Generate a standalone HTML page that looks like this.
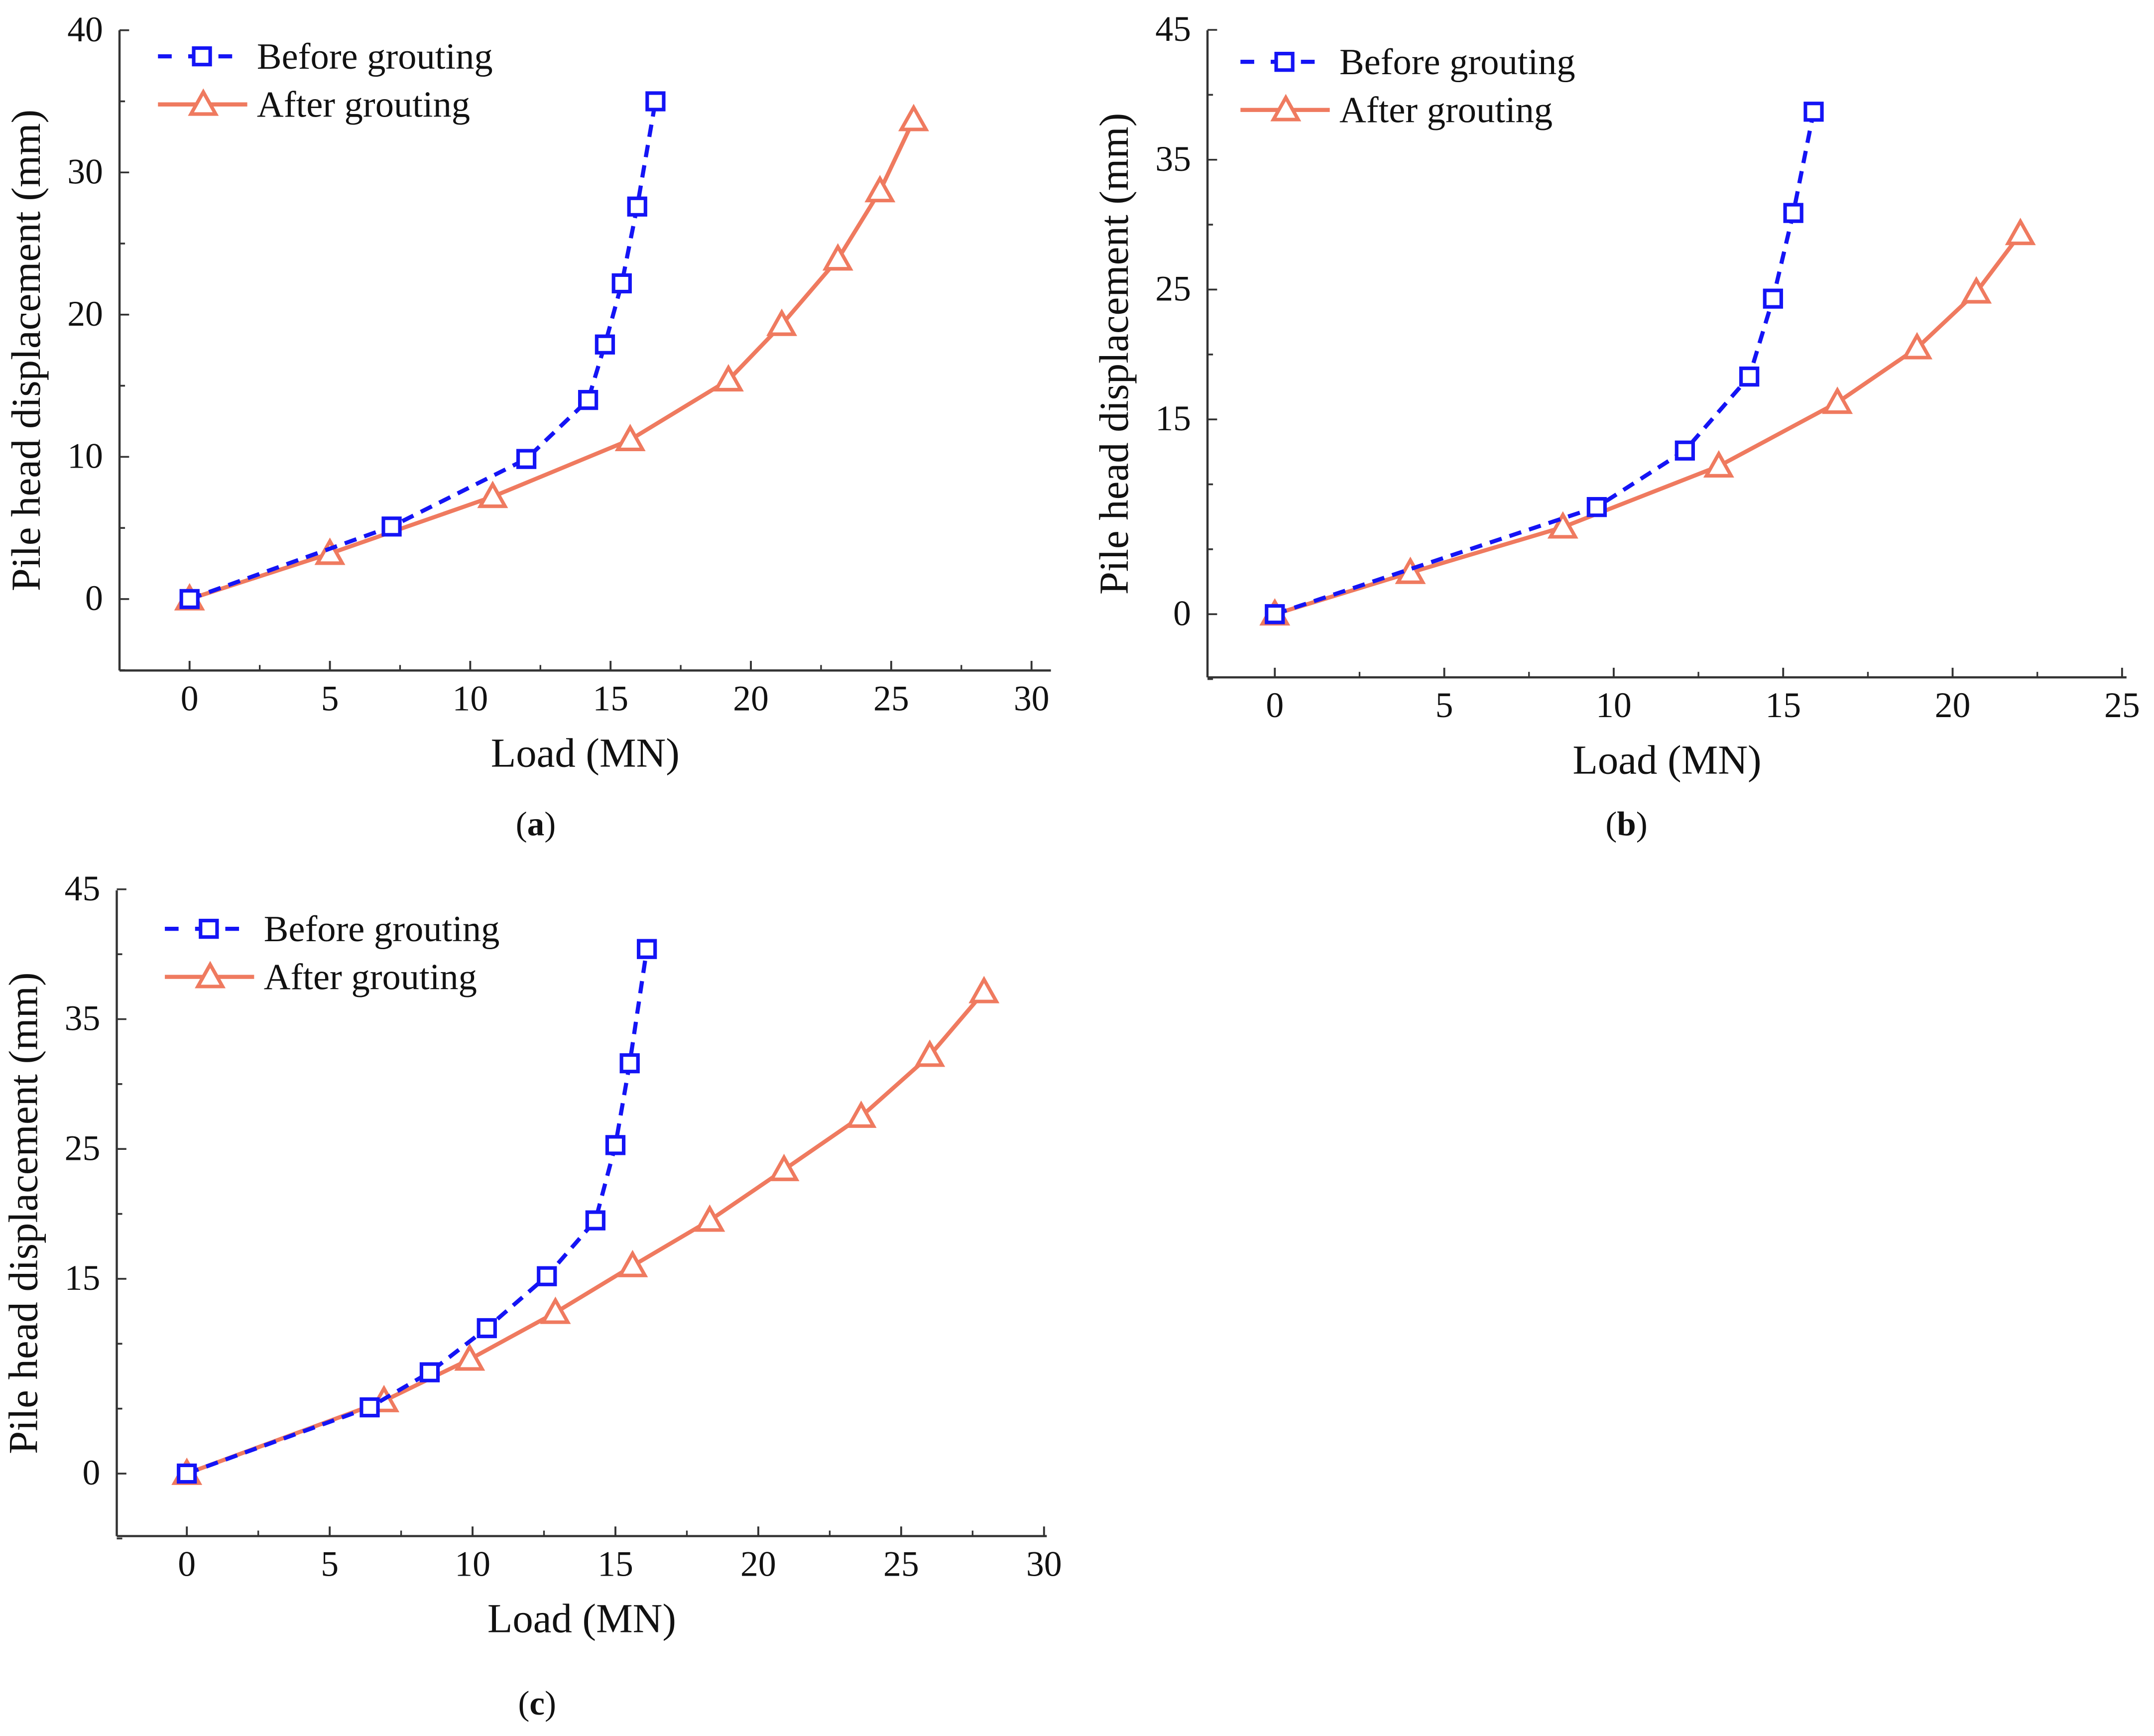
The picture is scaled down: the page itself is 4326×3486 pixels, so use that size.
<!DOCTYPE html>
<html><head><meta charset="utf-8">
<style>
html,body{margin:0;padding:0;background:#fff;}
svg{display:block;}
svg text{font-family:'Liberation Serif','Times New Roman',serif;fill:#111;}
</style></head>
<body>
<svg id="fig" width="4326" height="3486" viewBox="0 0 1568 1263.5" preserveAspectRatio="none" font-family="Liberation Serif, serif" xmlns="http://www.w3.org/2000/svg"></svg>
<script>
// ---- data ----
const aBeforeX=[0,7.2,12.0,14.2,14.8,15.4,15.95,16.6];
const aBeforeY=[0,5.1,9.85,14.0,17.9,22.2,27.6,35.0];
const aAfterX=[0,5.0,10.8,15.7,19.2,21.1,23.1,24.6,25.8];
const aAfterY=[0,3.2,7.2,11.2,15.4,19.3,23.9,28.7,33.7];
const bBeforeX=[0,9.5,12.1,14.0,14.7,15.3,15.9];
const bBeforeY=[0,8.25,12.6,18.3,24.3,30.9,38.7];
const bAfterX=[0,4.0,8.5,13.1,16.6,18.95,20.7,22.0];
const bAfterY=[0,3.2,6.7,11.4,16.3,20.5,24.8,29.3];
const cBeforeX=[0,6.4,8.5,10.5,12.6,14.3,15.0,15.5,16.1];
const cBeforeY=[0,5.1,7.8,11.2,15.2,19.5,25.3,31.6,40.4];
const cAfterX=[0,6.9,9.9,12.9,15.6,18.3,20.9,23.6,26.0,27.9];
const cAfterY=[0,5.6,8.8,12.4,16.0,19.5,23.4,27.5,32.2,37.1];
const aXTicks=[0,5,10,15,20,25,30];
const aYTicks=[0,10,20,30,40];
const bXTicks=[0,5,10,15,20,25];
const bYTicks=[0,15,25,35,45];
const cXTicks=[0,5,10,15,20,25,30];
const cYTicks=[0,15,25,35,45];

const NS="http://www.w3.org/2000/svg";
const svg=document.getElementById('fig');
function el(tag,attrs,parent){const e=document.createElementNS(NS,tag);for(const k in attrs)e.setAttribute(k,attrs[k]);(parent||svg).appendChild(e);return e;}
const BLUE="#1414f5", ORANGE="#ef7a5f";
const FF="Liberation Serif, serif";

function panel(p){
  const g=el('g',{});
  
  
  const sx=v=>p.x0+v*p.xs;
  const sy=v=>p.y0-v*p.ys;
  const ya=el('line',{x1:p.L,y1:p.T,x2:p.L,y2:p.B,stroke:'#333','stroke-width':1.6},g);
  
  
  const xa=el('line',{x1:p.L,y1:p.B,x2:p.R,y2:p.B,stroke:'#333','stroke-width':1.6},g);
  
  
  p.xt.forEach((v,i)=>{
    const x=sx(v);
    el('line',{x1:x,y1:p.B,x2:x,y2:p.B-7,stroke:'#333','stroke-width':1.4},g);
    if(i<p.xt.length-1){const m=sx(v+2.5);el('line',{x1:m,y1:p.B,x2:m,y2:p.B-4,stroke:'#333','stroke-width':1.2},g);}
    const t=el('text',{x:x,y:p.B+29,'font-size':26,'text-anchor':'middle','font-family':FF},g);
    t.textContent=v;
    
    
  });
  for(let v=p.ymin;v<=p.ymax+0.01;v+=5){const y=sy(v);el('line',{x1:p.L,y1:y,x2:p.L+(p.yt.includes(v)?7:4),y2:y,stroke:'#333','stroke-width':1.3},g);}
  p.yt.forEach(v=>{
    const t=el('text',{x:p.L-12,y:sy(v)+8,'font-size':26,'text-anchor':'end','font-family':FF},g);
    t.textContent=v;
    
    
  });
  const xt=el('text',{x:(p.L+p.R)/2,y:p.B+70,'font-size':30,'text-anchor':'middle','font-family':FF},g);
  xt.textContent='Load (MN)';
  
  
  const yx=p.L-58, yy=(p.T+p.B)/2;
  const yt=el('text',{x:yx,y:yy,'font-size':30,'text-anchor':'middle','font-family':FF,transform:`rotate(-90 ${yx} ${yy})`},g);
  yt.textContent='Pile head displacement (mm)';
  
  
  function series(X,Y,color,dash,marker,name){
    const pts=X.map((v,i)=>sx(v)+','+sy(Y[i])).join(' ');
    const pl=el('polyline',{points:pts,fill:'none',stroke:color,'stroke-width':3,'stroke-dasharray':dash||'none'},g);
    
    
    X.forEach((v,i)=>{
      const x=sx(v),y=sy(Y[i]);let m;
      if(marker==='sq') m=el('rect',{x:x-6,y:y-6,width:12,height:12,fill:'#fff',stroke:color,'stroke-width':2.6},g);
      else m=el('polygon',{points:`${x},${y-9} ${x-9},${y+7} ${x+9},${y+7}`,fill:'#fff',stroke:color,'stroke-width':2.6},g);
      
      
    });
  }
  series(p.ax,p.ay,ORANGE,null,'tri','after-grouting');
  series(p.bx,p.by,BLUE,'9,6','sq','before-grouting');
  const lx=p.lx, ly1=p.ly, ly2=p.ly+35;
  const l1=el('g',{},g);
  
  
  el('line',{x1:lx,y1:ly1,x2:lx+65,y2:ly1,stroke:BLUE,'stroke-width':3,'stroke-dasharray':'10,12'},l1);
  el('rect',{x:lx+26,y:ly1-6,width:12,height:12,fill:'#fff',stroke:BLUE,'stroke-width':2.6},l1);
  const t1=el('text',{x:lx+72,y:ly1+9,'font-size':27,'font-family':FF},l1);t1.textContent='Before grouting';
  const l2=el('g',{},g);
  
  
  el('line',{x1:lx,y1:ly2,x2:lx+65,y2:ly2,stroke:ORANGE,'stroke-width':3},l2);
  el('polygon',{points:`${lx+33},${ly2-9} ${lx+24},${ly2+7} ${lx+42},${ly2+7}`,fill:'#fff',stroke:ORANGE,'stroke-width':2.6},l2);
  const t2=el('text',{x:lx+72,y:ly2+9,'font-size':27,'font-family':FF},l2);t2.textContent='After grouting';
  const cap=el('text',{x:p.capx,y:p.capy,'font-size':25,'text-anchor':'middle','font-family':FF},g);
  cap.innerHTML='(<tspan font-weight="bold">'+p.id+'</tspan>)';
  
  
}

panel({id:'a',L:87,R:765,T:22,B:488,x0:138,xs:20.43,y0:436,ymin:-5,ymax:40,ys:10.35,xt:aXTicks,yt:aYTicks,
  bx:aBeforeX,by:aBeforeY,ax:aAfterX,ay:aAfterY,lx:115,ly:41,capx:390,capy:608});
panel({id:'b',L:879,R:1548,T:22,B:493,x0:928,xs:24.67,y0:447,ymin:-5,ymax:45,ys:9.45,xt:bXTicks,yt:bYTicks,
  bx:bBeforeX,by:bBeforeY,ax:bAfterX,ay:bAfterY,lx:903,ly:45,capx:1184,capy:608});
panel({id:'c',L:85,R:762,T:648,B:1118,x0:136,xs:20.8,y0:1072.5,ymin:-5,ymax:45,ys:9.45,xt:cXTicks,yt:cYTicks,
  bx:cBeforeX,by:cBeforeY,ax:cAfterX,ay:cAfterY,lx:120,ly:676,capx:391,capy:1248});
</script>
</body></html>
